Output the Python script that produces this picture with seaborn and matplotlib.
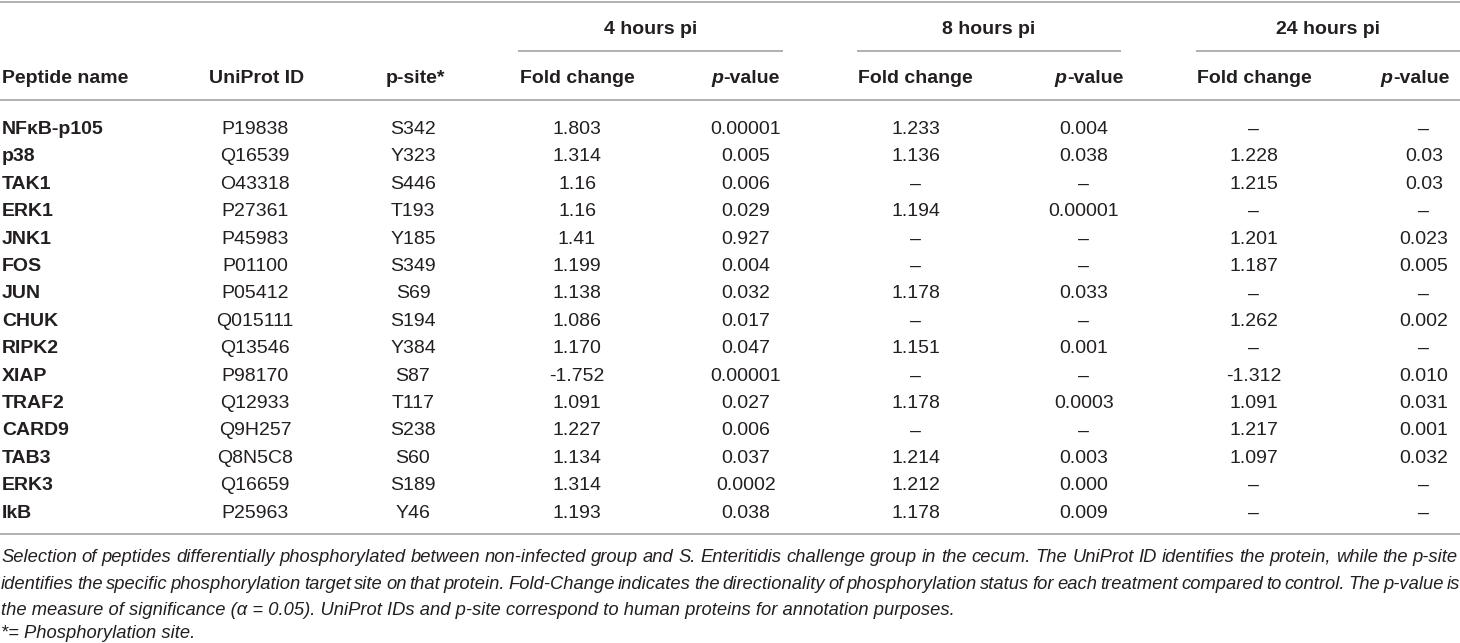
import pandas as pd
import matplotlib
matplotlib.use('Agg')
import matplotlib.pyplot as plt
import seaborn as sns

sns.set_theme(style='white')
plt.rcParams['font.family'] = ['Liberation Sans', 'DejaVu Sans']

# --- table content ---
peptides = ['NFκB-p105', 'p38', 'TAK1', 'ERK1', 'JNK1', 'FOS', 'JUN', 'CHUK',
            'RIPK2', 'XIAP', 'TRAF2', 'CARD9', 'TAB3', 'ERK3', 'IkB']
uniprot = ['P19838', 'Q16539', 'O43318', 'P27361', 'P45983', 'P01100', 'P05412',
           'Q015111', 'Q13546', 'P98170', 'Q12933', 'Q9H257', 'Q8N5C8', 'Q16659', 'P25963']
psite = ['S342', 'Y323', 'S446', 'T193', 'Y185', 'S349', 'S69', 'S194', 'Y384',
         'S87', 'T117', 'S238', 'S60', 'S189', 'Y46']
fc_4h = ['1.803', '1.314', '1.16', '1.16', '1.41', '1.199', '1.138', '1.086', '1.170',
         '-1.752', '1.091', '1.227', '1.134', '1.314', '1.193']
p_4h = ['0.00001', '0.005', '0.006', '0.029', '0.927', '0.004', '0.032', '0.017', '0.047',
        '0.00001', '0.027', '0.006', '0.037', '0.0002', '0.038']
fc_8h = ['1.233', '1.136', '–', '1.194', '–', '–', '1.178', '–', '1.151', '–',
         '1.178', '–', '1.214', '1.212', '1.178']
p_8h = ['0.004', '0.038', '–', '0.00001', '–', '–', '0.033', '–', '0.001', '–',
        '0.0003', '–', '0.003', '0.000', '0.009']
fc_24h = ['–', '1.228', '1.215', '–', '1.201', '1.187', '–', '1.262', '–', '-1.312',
          '1.091', '1.217', '1.097', '–', '–']
p_24h = ['–', '0.03', '0.03', '–', '0.023', '0.005', '–', '0.002', '–', '0.010',
         '0.031', '0.001', '0.032', '–', '–']

groups = ['4 hours pi', '8 hours pi', '24 hours pi']
caption = [
    'Selection of peptides differentially phosphorylated between non-infected group and S. Enteritidis '
    'challenge group in the cecum. The UniProt ID identifies the protein, while the p-site',
    'identifies the specific phosphorylation target site on that protein. Fold-Change indicates the '
    'directionality of phosphorylation status for each treatment compared to control. The p-value is',
    'the measure of significance (α = 0.05). UniProt IDs and p-site correspond to human proteins for '
    'annotation purposes.',
]
footnote = '*= Phosphorylation site.'

df = pd.DataFrame({'peptide': peptides, 'uniprot': uniprot, 'psite': psite,
                   'fc_4h': fc_4h, 'p_4h': p_4h, 'fc_8h': fc_8h, 'p_8h': p_8h,
                   'fc_24h': fc_24h, 'p_24h': p_24h})

# layout in pixel units
W, H = 1460, 643
txt = '#231f20'
rule = '#a3a3a3'
fs = 14
cap_fs = 13.2
col_x = {'uniprot': 255, 'psite': 413, 'fc_4h': 577, 'p_4h': 746, 'fc_8h': 916,
         'p_8h': 1084, 'fc_24h': 1254, 'p_24h': 1424}
head_x = {'uniprot': 257, 'psite': 415, 'fc_4h': 577, 'p_4h': 746, 'fc_8h': 915,
          'p_8h': 1089, 'fc_24h': 1254, 'p_24h': 1415}
group_span = [(518, 783), (857, 1121), (1196, 1460)]
row0, row_step = 134, 27.4

fig = plt.figure(figsize=(W / 100, H / 100), dpi=100)
ax = fig.add_axes([0, 0, 1, 1])
ax.set_xlim(0, W)
ax.set_ylim(H, 0)
ax.axis('off')
renderer = fig.canvas.get_renderer()

# rules
for y in (1.5, 100, 534):
    ax.plot([0, W], [y, y], color=rule, lw=1.2, solid_capstyle='butt')
for (x0, x1), g in zip(group_span, groups):
    ax.plot([x0, x1], [51, 51], color=rule, lw=1.2, solid_capstyle='butt')
    ax.text((x0 + x1) / 2, 34, g, ha='center', va='baseline', fontsize=fs,
            fontweight='bold', color=txt)

# column headers
hy = 83
ax.text(2, hy, 'Peptide name', ha='left', va='baseline', fontsize=fs, fontweight='bold', color=txt)
ax.text(head_x['uniprot'], hy, 'UniProt ID', ha='center', va='baseline', fontsize=fs,
        fontweight='bold', color=txt)
ax.text(head_x['psite'], hy, 'p-site*', ha='center', va='baseline', fontsize=fs,
        fontweight='bold', color=txt)


def pvalue_header(xc):
    a = ax.text(0, hy, 'p', ha='left', va='baseline', fontsize=fs, fontweight='bold',
                style='italic', color=txt)
    b = ax.text(0, hy, '-value', ha='left', va='baseline', fontsize=fs, fontweight='bold',
                color=txt)
    wa = a.get_window_extent(renderer).width
    wb = b.get_window_extent(renderer).width
    x0 = xc - (wa + wb) / 2
    a.set_x(x0)
    b.set_x(x0 + wa)


for key in ['fc_4h', 'fc_8h', 'fc_24h']:
    ax.text(head_x[key], hy, 'Fold change', ha='center', va='baseline', fontsize=fs,
            fontweight='bold', color=txt)
for key in ['p_4h', 'p_8h', 'p_24h']:
    pvalue_header(head_x[key])

# body
for i, row in df.iterrows():
    y = row0 + i * row_step
    ax.text(2, y, row['peptide'], ha='left', va='baseline', fontsize=fs,
            fontweight='bold', color=txt)
    for key, x in col_x.items():
        ax.text(x, y, row[key], ha='center', va='baseline', fontsize=fs, color=txt)


# caption, justified to the full width
def justified(line, y, width):
    words = line.split(' ')
    items = [ax.text(0, y, w, ha='left', va='baseline', fontsize=cap_fs, style='italic',
                     color=txt) for w in words]
    widths = [t.get_window_extent(renderer).width for t in items]
    gap = (width - sum(widths)) / (len(words) - 1)
    x = 1
    for t, w in zip(items, widths):
        t.set_x(x)
        x += w + gap


cap_y = [562, 589, 615]
justified(caption[0], cap_y[0], W - 3)
justified(caption[1], cap_y[1], W - 1)
ax.text(1, cap_y[2], caption[2], ha='left', va='baseline', fontsize=cap_fs, style='italic', color=txt)
ax.text(1, 638, footnote, ha='left', va='baseline', fontsize=cap_fs, style='italic', color=txt)

fig.savefig('out.png', dpi=100, facecolor='white')
